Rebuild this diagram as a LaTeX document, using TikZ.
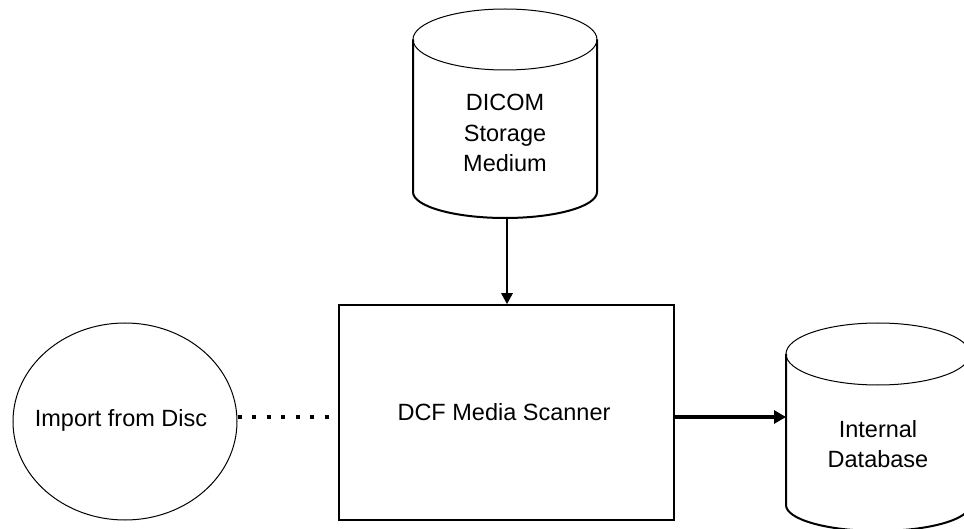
\documentclass[tikz,border=0pt]{standalone}
\usepackage{fontspec}
\setmainfont{Liberation Sans}
\usetikzlibrary{shapes.geometric,arrows.meta}
\tikzset{
  lbl/.style={align=center,inner sep=0pt,font=\fontsize{23.5}{30.5}\selectfont},
  cylside/.style={line width=2pt},
  cyltop/.style={line width=1pt},
  flow/.style={line width=2.5pt,-{Triangle[length=11pt,width=11pt]}},
  flowthick/.style={line width=4pt,-{Triangle[length=12pt,width=13pt]}},
  dotline/.style={line width=3.5pt,dash pattern=on 4pt off 10.5pt},
}
\begin{document}
\begin{tikzpicture}[x=1pt,y=1pt]
\useasboundingbox (0,0) rectangle (964,-529);
% DICOM Storage Medium cylinder
\draw[cyltop] (505,-39.5) ellipse [x radius=92, y radius=30.5];
\draw[cylside] (413,-39.5) -- (413,-192) arc[start angle=180,end angle=360,x radius=92,y radius=26] -- (597,-39.5);
\node[lbl] (dicom) at (505,-133) {DICOM\\Storage\\Medium};
\coordinate (dicombottom) at (507,-218);
% Internal Database cylinder
\draw[cyltop] (878,-354) ellipse [x radius=92, y radius=31];
\draw[cylside] (786,-354) -- (786,-505) arc[start angle=180,end angle=360,x radius=92,y radius=26] -- (970,-354);
\node[lbl] (idb) at (878,-444) {Internal\\Database};
\coordinate (idbin) at (786,-417);
% Scanner box
\node[draw,line width=1.5pt,minimum width=335,minimum height=215,inner sep=0pt] (scanner) at (506.5,-412.5) {};
\node[lbl] (scannerlbl) at (504,-412) {DCF Media Scanner};
% Import from Disc
\node[draw,ellipse,line width=1pt,minimum width=224,minimum height=197,inner sep=0pt] (import) at (125,-421.5) {};
\node[lbl] (importlbl) at (121,-420) {Import from Disc};
\coordinate (dotend) at (332,-417);
% connectors
\draw[flow] (dicombottom) -- (dicombottom |- scanner.north);
\draw[flowthick] (scanner.east |- idbin) -- (idbin);
\draw[dotline] (import.east |- dotend) -- (dotend);
\end{tikzpicture}
\end{document}
